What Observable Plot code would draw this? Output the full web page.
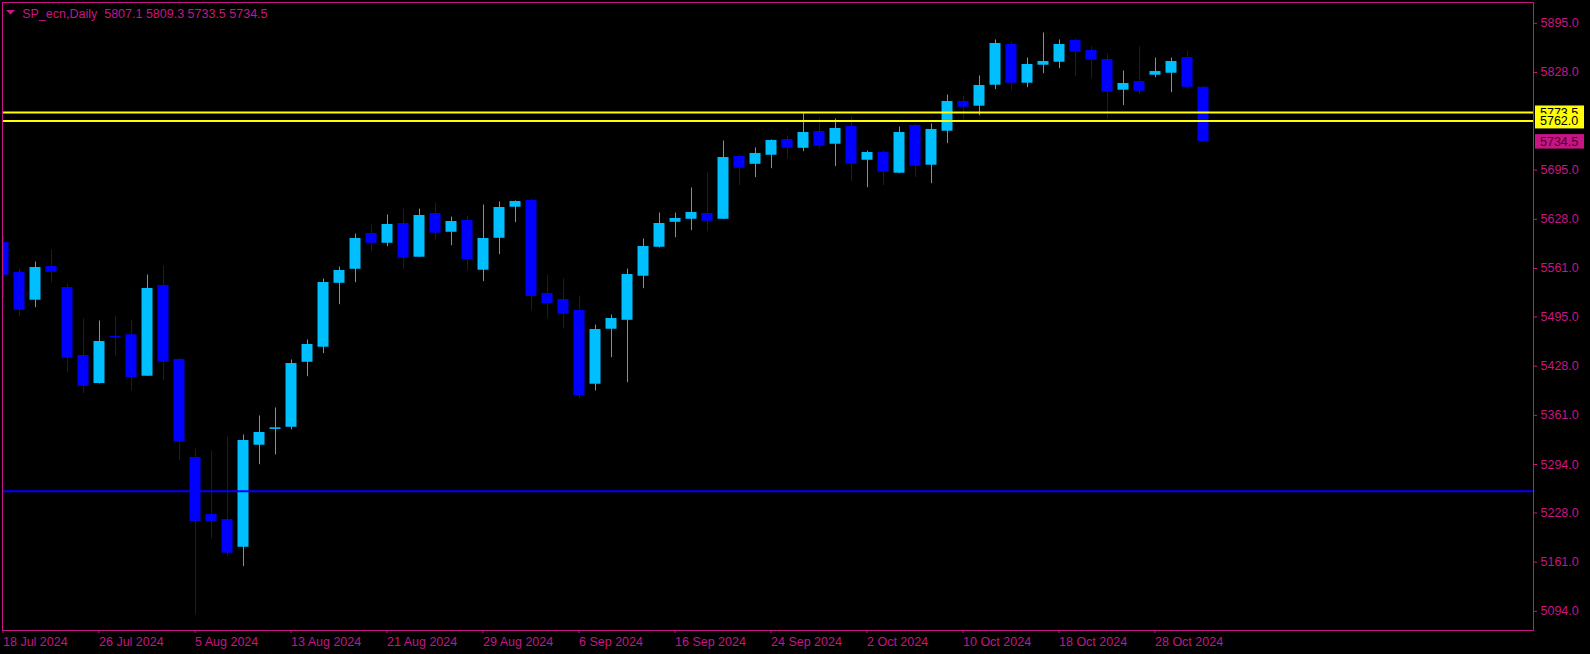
<!DOCTYPE html>
<html>
<head>
<meta charset="utf-8">
<script src="https://cdn.jsdelivr.net/npm/d3@7"></script>
<script src="https://cdn.jsdelivr.net/npm/@observablehq/plot@0.6"></script>
<style>
  html, body { margin: 0; padding: 0; background: #000; }
  #chart svg { display: block; }
</style>
</head>
<body>
<div id="chart"></div>
<script>
const symbol = "SP_ecn";
const period = "Daily";

const dates = ["2024-07-18","2024-07-19","2024-07-22","2024-07-23","2024-07-24","2024-07-25","2024-07-26","2024-07-29","2024-07-30","2024-07-31",
"2024-08-01","2024-08-02","2024-08-05","2024-08-06","2024-08-07","2024-08-08","2024-08-09","2024-08-12","2024-08-13","2024-08-14","2024-08-15","2024-08-16","2024-08-19","2024-08-20","2024-08-21","2024-08-22","2024-08-23","2024-08-26","2024-08-27","2024-08-28","2024-08-29","2024-08-30",
"2024-09-02","2024-09-03","2024-09-04","2024-09-05","2024-09-06","2024-09-09","2024-09-10","2024-09-11","2024-09-12","2024-09-13","2024-09-16","2024-09-17","2024-09-18","2024-09-19","2024-09-20","2024-09-23","2024-09-24","2024-09-25","2024-09-26","2024-09-27","2024-09-30",
"2024-10-01","2024-10-02","2024-10-03","2024-10-04","2024-10-07","2024-10-08","2024-10-09","2024-10-10","2024-10-11","2024-10-14","2024-10-15","2024-10-16","2024-10-17","2024-10-18","2024-10-21","2024-10-22","2024-10-23","2024-10-24","2024-10-25","2024-10-28","2024-10-29","2024-10-30","2024-10-31"];

const open = [5595.7,5554.9,5518.5,5563.0,5534.4,5441.8,5405.0,5467.6,5470.0,5415.0,
5537.2,5436.4,5302.9,5225.2,5218.4,5182.0,5321.0,5342.5,5345.5,5434.0,5454.5,5541.6,5560.7,5608.0,5596.1,5621.6,5577.1,5635.2,5611.1,5625.7,5559.4,5602.9,
5645.2,5652.9,5526.3,5518.1,5503.1,5404.1,5479.0,5491.2,5551.2,5590.7,5624.7,5628.8,5635.2,5628.8,5712.9,5703.7,5716.0,5736.0,5725.5,5746.9,5731.0,
5753.7,5709.2,5718.3,5691.5,5755.1,5702.4,5748.7,5787.8,5782.8,5811.4,5865.4,5814.1,5838.6,5842.7,5870.9,5857.3,5845.0,5804.6,5815.0,5825.0,5827.7,5847.7,5807.1];

const high = [5604.0,5559.9,5569.8,5586.2,5539.9,5492.2,5489.5,5496.3,5490.8,5552.1,
5564.4,5438.7,5315.1,5312.4,5331.5,5334.2,5360.1,5371.0,5436.4,5463.6,5546.7,5563.0,5608.0,5620.2,5633.9,5642.0,5642.0,5650.2,5631.1,5632.5,5647.5,5651.6,
5652.9,5655.3,5552.1,5546.7,5523.5,5484.0,5497.6,5560.3,5601.2,5636.6,5636.6,5670.6,5691.1,5734.7,5715.6,5725.1,5736.0,5741.5,5772.0,5766.0,5764.6,
5767.4,5721.0,5721.0,5753.7,5757.8,5757.8,5797.3,5796.0,5823.2,5872.3,5869.5,5847.7,5881.8,5872.3,5873.6,5862.7,5853.2,5830.0,5862.7,5847.7,5847.7,5857.3,5809.3];

const low = [5521.2,5495.3,5507.6,5541.6,5418.6,5390.4,5403.7,5441.8,5394.1,5414.0,
5408.2,5299.2,5089.0,5193.0,5168.4,5154.8,5293.7,5307.0,5341.0,5413.6,5445.0,5511.7,5541.6,5583.9,5590.7,5559.4,5576.0,5600.2,5592.0,5558.0,5543.0,5579.8,
5623.4,5503.1,5492.6,5478.6,5383.2,5394.1,5439.5,5405.4,5533.5,5589.0,5602.9,5612.5,5611.1,5627.5,5673.8,5684.7,5696.9,5710.1,5720.1,5723.8,5699.7,
5679.2,5671.1,5673.8,5690.1,5684.7,5676.5,5731.0,5763.3,5769.1,5804.6,5803.2,5807.3,5826.3,5833.2,5822.3,5819.5,5763.7,5782.8,5797.7,5820.9,5800.5,5804.6,5733.5];

const close = [5552.5,5504.9,5561.7,5556.6,5439.5,5401.3,5460.9,5467.2,5413.2,5533.1,
5434.0,5325.1,5217.0,5217.0,5173.9,5326.0,5336.9,5343.2,5430.9,5456.8,5541.2,5557.6,5601.2,5596.1,5620.2,5575.7,5632.5,5609.8,5624.3,5573.9,5601.2,5643.4,
5651.6,5523.5,5514.0,5499.4,5388.7,5477.2,5492.2,5552.1,5590.3,5621.6,5628.4,5636.6,5626.1,5711.5,5698.3,5717.0,5734.7,5725.5,5745.6,5728.3,5751.0,
5703.7,5718.3,5692.8,5745.6,5701.0,5749.7,5787.8,5781.4,5809.6,5866.8,5814.1,5838.2,5842.3,5865.4,5856.3,5845.4,5801.8,5812.3,5803.2,5828.7,5842.3,5808.6,5734.5];

const yTicks = [5895, 5828, 5695, 5628, 5561, 5495, 5428, 5361, 5294, 5228, 5161, 5094];
const xTickIdx = [0, 6, 12, 18, 24, 30, 36, 42, 48, 54, 60, 66, 72];
const yellowLevels = [5773.5, 5762.0];
const blueLevels = [5257.5];

const MAG = "#C71585";
const BULL = "#00BFFF";
const BEAR = "#0000FF";
const FONT = "'Liberation Sans', Arial, sans-serif";
const FS = 12.5;

const parse = d3.utcParse("%Y-%m-%d");
const fmt = d3.utcFormat("%-d %b %Y");

const bars = dates.map((d, i) => ({
  i, date: d, o: open[i], h: high[i], l: low[i], c: close[i],
  col: close[i] >= open[i] ? BULL : BEAR
}));
const last = bars[bars.length - 1];
const titleText = `${symbol},${period}\u00a0\u00a0${last.o.toFixed(1)} ${last.h.toFixed(1)} ${last.l.toFixed(1)} ${last.c.toFixed(1)}`;

const W = 1590, H = 654;
const mL = 2, mR = 57, mT = 2, mB = 24;
const barPx = 16;
const x0 = (mL - 3) / barPx;
const x1 = (W - mR - 3) / barPx;
const half = 5 / barPx;

const chart = Plot.plot({
  width: W,
  height: H,
  marginLeft: mL,
  marginRight: mR,
  marginTop: mT,
  marginBottom: mB,
  style: { background: "#000", color: MAG, fontFamily: FONT, fontSize: FS + "px" },
  x: { type: "linear", domain: [x0, x1], axis: null, label: null },
  y: { domain: [5067.9, 5923.3], axis: null, label: null },
  marks: [
    Plot.ruleX(bars, { x: "i", y1: "l", y2: "h", stroke: "col", strokeWidth: 1, clip: true }),
    Plot.rect(bars, {
      x1: d => d.i - half, x2: d => d.i + half,
      y1: d => Math.min(d.o, d.c), y2: d => Math.max(d.o, d.c),
      fill: "col", stroke: "col", strokeWidth: 1, clip: true
    }),
    Plot.ruleY(yellowLevels, { y: d => d, stroke: "#FFFF00", strokeWidth: 2 }),
    Plot.ruleY(blueLevels, { y: d => d, stroke: BEAR, strokeWidth: 2 }),
    Plot.axisY({ anchor: "right", label: null, ticks: yTicks, tickFormat: d => d.toFixed(1), tickSize: 3, tickPadding: 4, fontSize: FS, stroke: MAG, fill: MAG }),
    Plot.axisX({ anchor: "bottom", label: null, ticks: xTickIdx, tickFormat: i => fmt(parse(dates[i])), tickSize: 3, tickPadding: 4, textAnchor: "start", dx: -0.5, fontSize: FS, stroke: MAG, fill: MAG }),
    Plot.frame({ stroke: MAG, strokeWidth: 1 }),
    Plot.text([titleText], { frameAnchor: "top-left", text: d => d, dx: 19.7, dy: 15.3, lineAnchor: "bottom", textAnchor: "start", fill: MAG, fontSize: FS })
  ]
});

// Price labels on the right scale (positions from Plot's y scale)
const ys = chart.scale("y");
const svg = d3.select(chart);
const g = svg.append("g").attr("font-family", FONT).attr("font-size", FS).attr("text-anchor", "start");
const labels = [
  { v: yellowLevels[0], fill: "#FFFF00", text: "#000" },
  { v: yellowLevels[1], fill: "#FFFF00", text: "#000" },
  { v: last.c, fill: MAG, text: "#4A0030" }
];
const boxX = W - mR + 2;
for (const lb of labels) {
  const yy = ys.apply(lb.v) + 0.5;
  const lg = g.append("g");
  lg.append("rect").attr("x", boxX).attr("y", yy - 7).attr("width", 49).attr("height", 14.5).attr("fill", lb.fill);
  lg.append("text").attr("x", boxX + 5).attr("y", yy).attr("dy", "0.36em").attr("text-anchor", "start").attr("fill", lb.text).text(lb.v.toFixed(1));
}
// title triangle marker
svg.append("path").attr("d", "M6,10L15,10L10.5,14.5Z").attr("fill", MAG);

document.getElementById("chart").appendChild(chart);
</script>
</body>
</html>
